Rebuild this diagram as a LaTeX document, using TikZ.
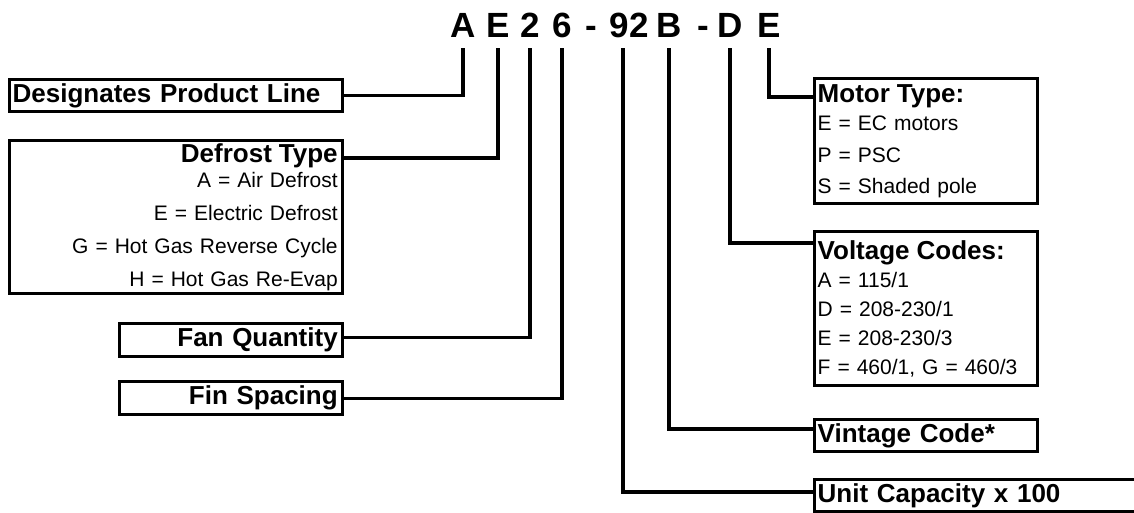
\documentclass[tikz,border=0pt]{standalone}
\usepackage{fontspec}
\setmainfont{Liberation Sans}
\usetikzlibrary{positioning}

\begin{document}
\begin{tikzpicture}[
    x=1pt, y=-1pt,
    code/.style={
        font=\fontsize{35}{35}\selectfont\bfseries,
        inner sep=0pt,
        outer ysep=11pt,
        anchor=base
    },
    box/.style={
        draw,
        rectangle,
        line width=3.4pt,
        inner xsep=3pt,
        inner ysep=0pt,
        anchor=north west,
        font=\fontsize{21}{33}\selectfont
    },
    head/.style={
        font=\fontsize{26}{26}\selectfont\bfseries
    },
    link/.style={
        line width=3.4pt
    }
]
\useasboundingbox (0,0) rectangle (1134,512);

% Model number
\node[code] at (463,37) (cA)  {A};
\node[code] at (498,37) (cE)  {E};
\node[code] at (530,37) (c2)  {2};
\node[code] at (562,37) (c6)  {6};
\node[code] at (591,37) (d1)  {-};
\node[code] at (629,37) (c92) {92};
\node[code] at (669,37) (cB)  {B};
\node[code] at (703,37) (d2)  {-};
\node[code] at (730,37) (cD)  {D};
\node[code] at (769,37) (cM)  {E};

% Left column
\node[box, head, text width=327pt, align=left, minimum height=32pt]
    at (8,78) (line) {Designates Product Line};
\node[box, inner xsep=5pt, text width=323pt, align=right, minimum height=153pt]
    at (8,139) (defrost) {{\fontsize{26}{26}\selectfont\bfseries Defrost Type}\\[-8pt]
    A = Air Defrost\\E = Electric Defrost\\G = Hot Gas Reverse Cycle\\H = Hot Gas Re-Evap};
\node[box, head, inner xsep=5pt, text width=213pt, align=right, minimum height=33pt]
    at (118,322) (fans) {Fan Quantity};
\node[box, head, inner xsep=5pt, text width=213pt, align=right, minimum height=33pt]
    at (118,380) (fins) {Fin Spacing};

% Right column
\node[box, text width=217pt, align=left, minimum height=125pt, font=\fontsize{21}{31.5}\selectfont]
    at (813,77) (motor) {{\fontsize{26}{26}\selectfont\bfseries Motor Type:}\\[-3pt]
    E = EC motors\\P = PSC\\S = Shaded pole};
\node[box, text width=217pt, align=left, minimum height=154pt, font=\fontsize{21}{29}\selectfont]
    at (813,230) (volt) {{\fontsize{26}{26}\selectfont\bfseries Voltage Codes:}\\[-1.5pt]
    A = 115/1\\D = 208-230/1\\E = 208-230/3\\F = 460/1, G = 460/3};
\node[box, head, text width=217pt, align=left, minimum height=32pt]
    at (813,418) (vint) {Vintage Code*};
\node[box, head, text width=330pt, align=left, minimum height=32pt]
    at (813,478) (cap) {Unit Capacity x 100};

% Connectors
\draw[link] (line.east) -| (cA.south);
\draw[link] ([yshift=-19pt]defrost.north east) -| (cE.south);
\draw[link] ([yshift=3pt]fans.east) -| (c2.south);
\draw[link] (fins.east) -| (c6.south);
\draw[link] ([yshift=-20pt]motor.north west) -| (cM.south);
\draw[link] ([yshift=-13pt]volt.north west) -| (cD.south);
\draw[link] ([yshift=-11pt]vint.north west) -| (cB.south);
\draw[link] ([yshift=-14pt]cap.north west) -| ([xshift=-6pt]c92.south);

\end{tikzpicture}
\end{document}
